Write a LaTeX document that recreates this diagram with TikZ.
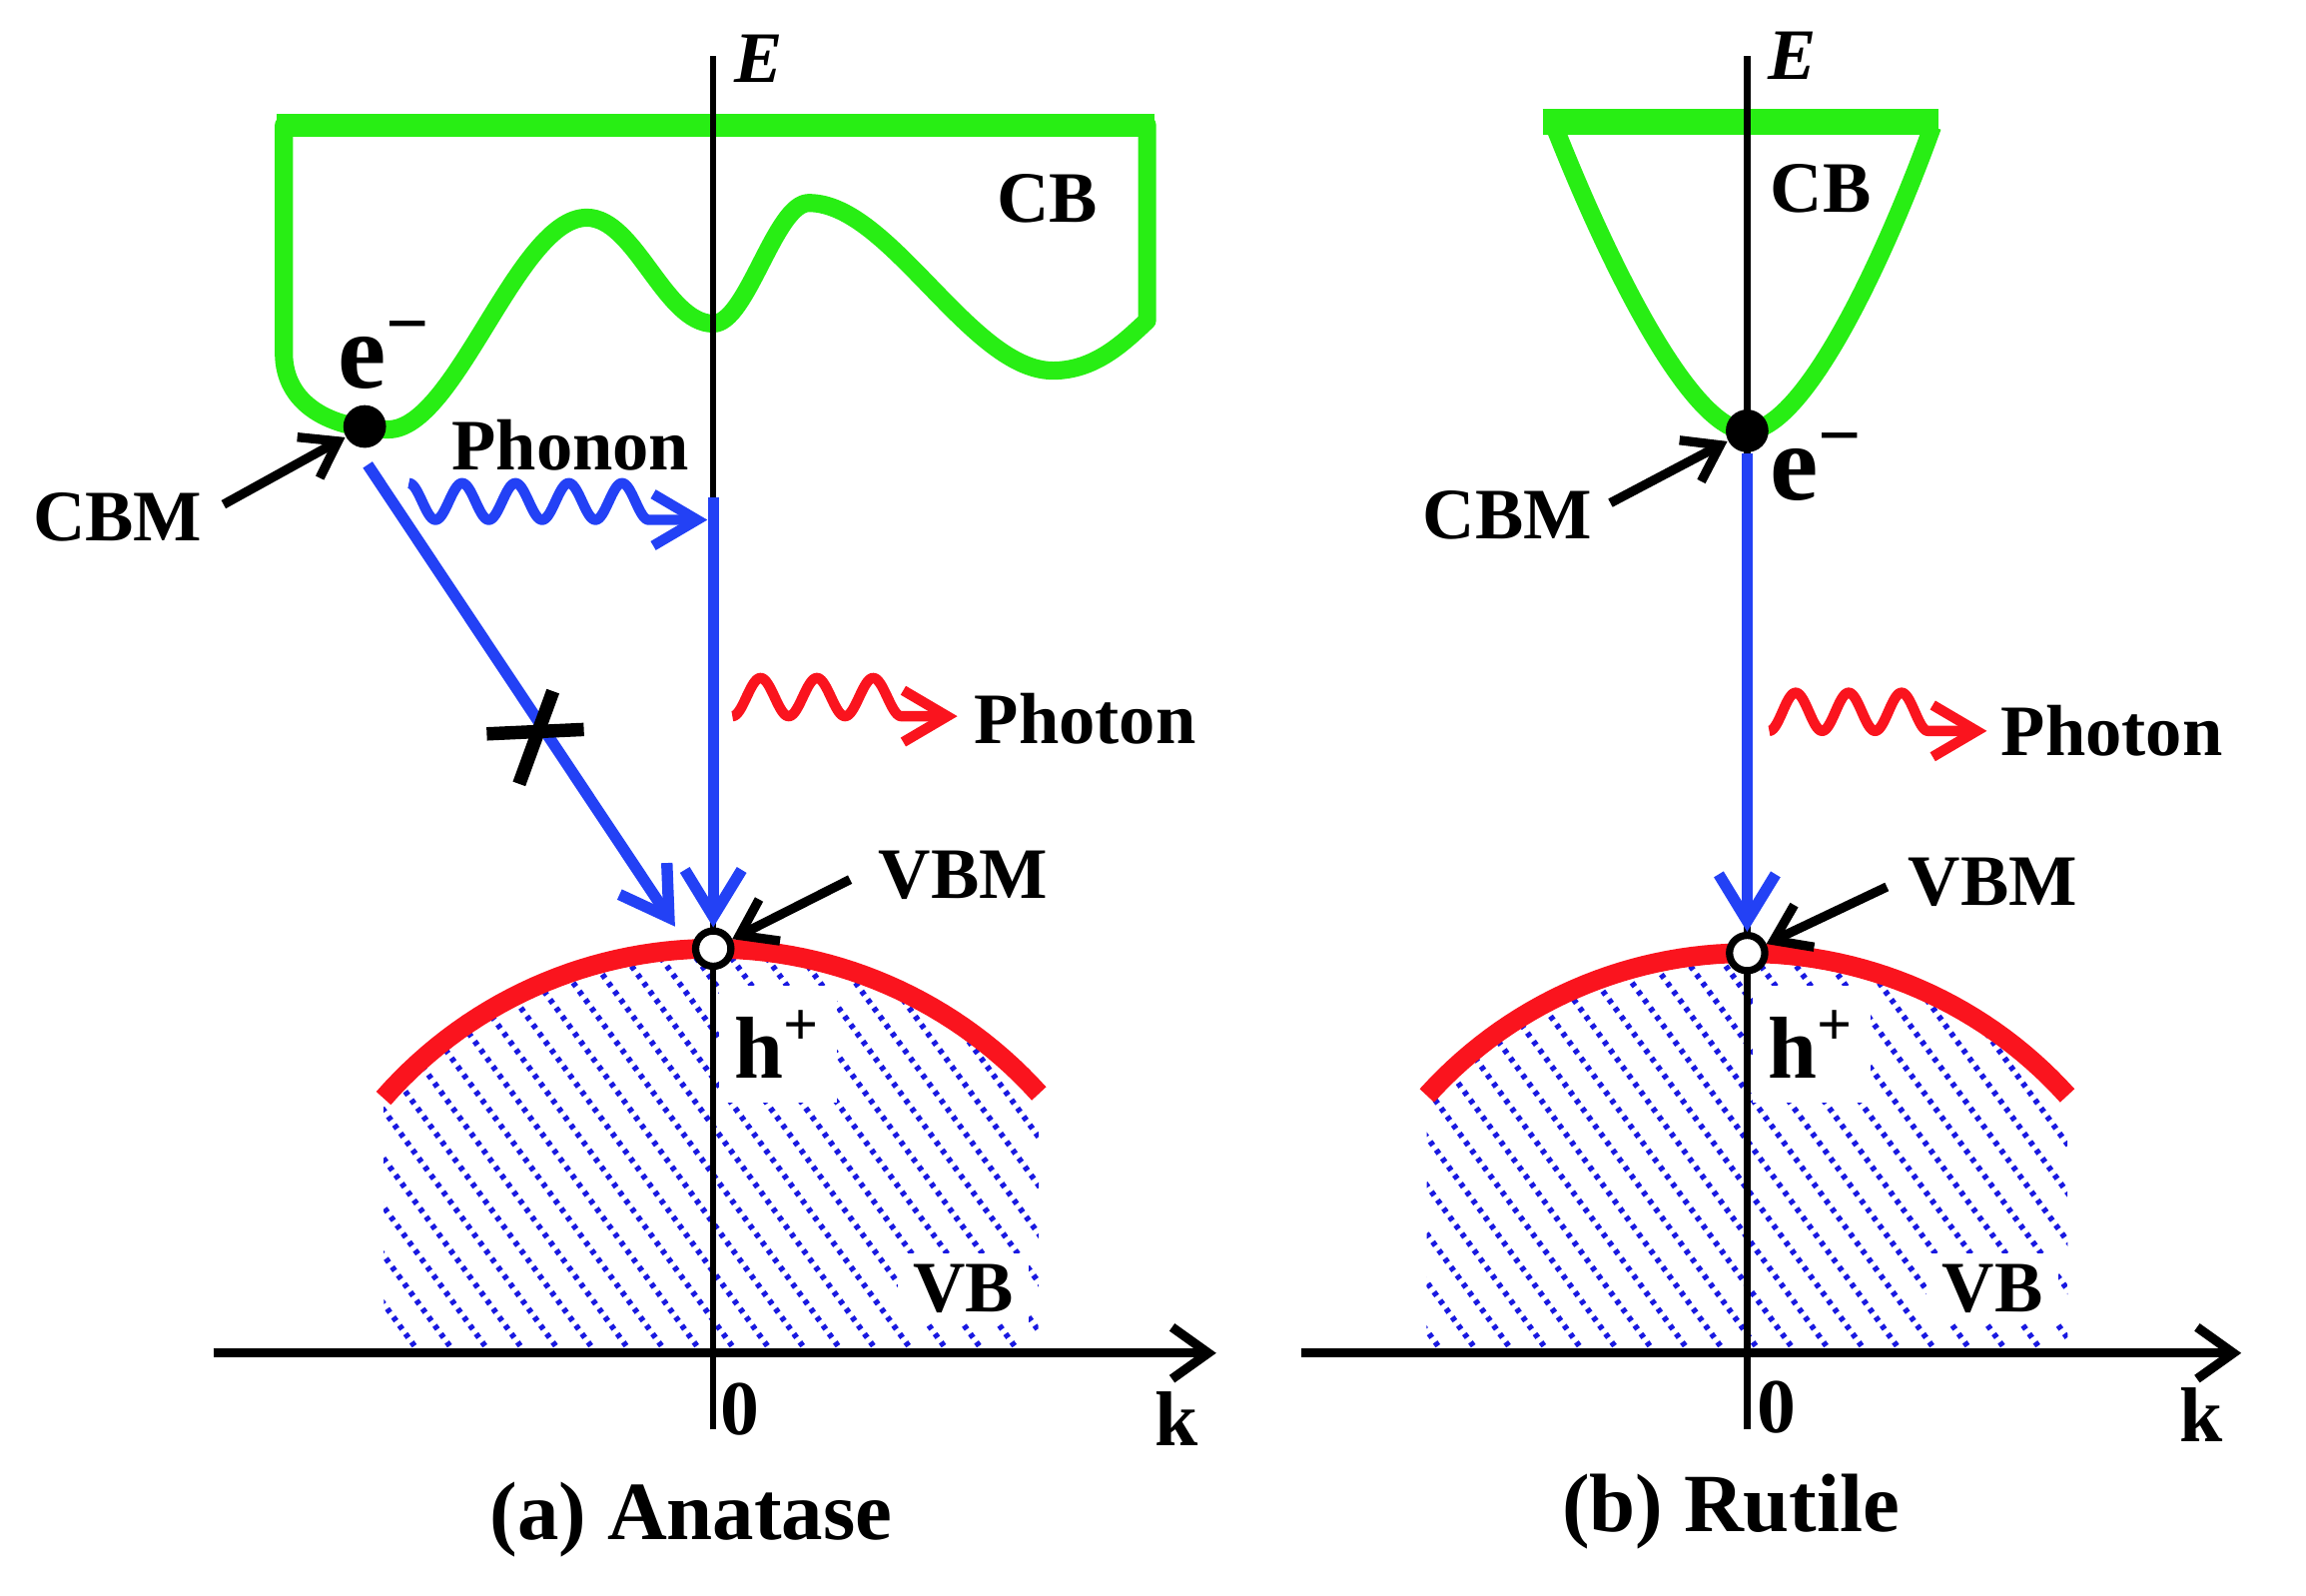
\documentclass[tikz,border=0pt]{standalone}
\usepackage{fontspec}
\setmainfont{Liberation Serif}
\usetikzlibrary{arrows.meta}
\definecolor{cbgreen}{RGB}{40,238,20}
\definecolor{arrblue}{RGB}{35,65,245}
\definecolor{hatchblue}{RGB}{25,25,225}
\definecolor{vbred}{RGB}{250,20,30}
\begin{document}
\begin{tikzpicture}[x=0.01cm,y=-0.01cm,
  lab/.style={font=\fontsize{14}{16}\selectfont\bfseries, inner sep=0pt},
  ttl/.style={font=\fontsize{16}{18}\selectfont\bfseries, inner sep=0pt},
  axlab/.style={font=\fontsize{15}{17}\selectfont\bfseries, inner sep=0pt},
  elab/.style={font=\fontsize{14}{16}\selectfont\bfseries\itshape, inner sep=0pt},
  carrier/.style={font=\fontsize{21}{23}\selectfont\bfseries, inner sep=0pt},
  holelab/.style={font=\fontsize{17}{19}\selectfont\bfseries, inner sep=0pt, fill=white, minimum width=0.8cm, minimum height=0.8cm},
  vblab/.style={font=\fontsize{14}{16}\selectfont\bfseries, inner xsep=3pt, inner ysep=2pt, fill=white},
  cbline/.style={draw=cbgreen, line width=3.5pt, line join=round},
  cbbar/.style={draw=cbgreen, line width=4.4pt},
  vbarc/.style={draw=vbred, line width=3.8pt},
  hatchline/.style={draw=hatchblue, line width=1.1pt, dash pattern=on 0.9pt off 1.1pt},
  eaxis/.style={draw=black, line width=1.2pt},
  kaxis/.style={draw=black, line width=1.8pt, -{Straight Barb[length=7pt,width=10pt]}},
  trans/.style={draw=arrblue, line width=2.2pt, -{Straight Barb[length=9pt,width=11pt]}},
  phon/.style={draw=arrblue, line width=2pt, line join=round, -{Straight Barb[length=8.5pt,width=10pt]}},
  phot/.style={draw=vbred, line width=2pt, line join=round, -{Straight Barb[length=8.5pt,width=10pt]}},
  pointer/.style={draw=black, line width=1.8pt, -{Straight Barb[length=6.5pt,width=9pt]}},
  xmark/.style={draw=black, line width=2.6pt},
  edot/.style={circle, fill=black, inner sep=0pt, minimum size=0.29cm},
  hole/.style={circle, draw=black, line width=1.4pt, fill=white, inner sep=0pt, minimum size=0.24cm}
]
\useasboundingbox (0,0) rectangle (1568,1085);

% ================= (a) Anatase =================
\begin{scope}
\clip plot[domain=138.8:42,samples=60] ({485+298*cos(\x)},{943-298*sin(\x)}) -- (706,918) -- (261,918) -- cycle;
\foreach \k in {0,...,30} {\draw[hatchline] ({-20+24*\k},600) -- ++(280,384);}
\end{scope}
\draw[vbarc] plot[domain=138.8:42,samples=60] ({485+298*cos(\x)},{943-298*sin(\x)});

\draw[cbline] (193,85) -- (780,85) -- (780,218) .. controls (765,232) and (745,252) .. (716,252)
  .. controls (660,252) and (605,138) .. (550,138) .. controls (527,138) and (508,220) .. (485,220)
  .. controls (452,220) and (432,148) .. (399,148) .. controls (352,148) and (310,292) .. (264,292)
  .. controls (225,292) and (193,275) .. (193,240) -- cycle;
\draw[cbbar] (188,85) -- (785,85);

\coordinate (EtopA) at (485,38);
\coordinate (EbotA) at (485,972);
\draw[eaxis] (EbotA) -- (EtopA);
\coordinate (kLA) at (145,920);
\coordinate (kRA) at (827,920);
\draw[kaxis] (kLA) -- (kRA);

\coordinate (vA1) at (485,338);
\coordinate (dA1) at (250,316);
\coordinate (dA2) at (459,630);
\node[hole] (vbmA) at (485,645) {};
\draw[trans] (vA1) -- (vbmA.north);
\draw[trans] (dA1) -- (dA2);
\draw[xmark] (331,499) -- (397,496);
\draw[xmark] (376,470) -- (353,533);

\coordinate (phA) at (481,353.5);
\draw[phon] plot[domain=0:4.5,samples=150] ({278+36.25*\x},{341-12.5*cos(360*\x)}) -- (phA);
\coordinate (phtA) at (651,487);
\draw[phot] plot[domain=0:3,samples=120] ({498+38.3*\x},{474+13*cos(360*\x)}) -- (phtA);

\node[edot] (cbmA) at (248,290) {};
\node[lab] (cbmlabA) at (80,352) {CBM};
\coordinate (cbmpA) at (152,343);
\draw[pointer] (cbmpA) -- (cbmA);
\node[lab] (vbmlabA) at (655,595) {VBM};
\coordinate (vbmpA) at (578,598);
\draw[pointer] (vbmpA) -- (vbmA);

\node[elab] (EA) at (516,40) {E};
\node[lab] (cbA) at (712,135) {CB};
\node[carrier, anchor=base west] (eA) at (229,264) {e\textsuperscript{−}};
\node[lab] (phonA) at (388,303) {Phonon};
\node[lab] (photA) at (738,489) {Photon};
\node[holelab] (hA) at (529,710) {h\textsuperscript{+}};
\node[vblab] (vbA) at (655,876) {VB};
\node[axlab] (zeroA) at (503,958) {0};
\node[axlab] (kA) at (800,965) {k};
\node[ttl] (titA) at (470,1033) {(a) Anatase};

% ================= (b) Rutile =================
\begin{scope}
\clip plot[domain=138:42,samples=60] ({1188+293*cos(\x)},{941-293*sin(\x)}) -- (1406,918) -- (970,918) -- cycle;
\foreach \k in {0,...,30} {\draw[hatchline] ({700+24*\k},600) -- ++(280,384);}
\end{scope}
\draw[vbarc] plot[domain=138:42,samples=60] ({1188+293*cos(\x)},{941-293*sin(\x)});

\draw[cbline] (1057,86) .. controls (1094,180) and (1150,293) .. (1188,293)
  .. controls (1226,293) and (1280,180) .. (1314,86);
\draw[cbbar, line width=5pt] (1049,83) -- (1318,83);

\coordinate (EtopB) at (1188,38);
\coordinate (EbotB) at (1188,972);
\draw[eaxis] (EbotB) -- (EtopB);
\coordinate (kLB) at (885,920);
\coordinate (kRB) at (1524,920);
\draw[kaxis] (kLB) -- (kRB);

\node[edot] (cbmB) at (1188,293) {};
\node[hole] (vbmB) at (1188,648) {};
\draw[trans] (cbmB.south) -- (vbmB.north);
\coordinate (phtB) at (1351,497);
\draw[phot] plot[domain=0:3,samples=120] ({1203+36*\x},{484+13*cos(360*\x)}) -- (phtB);

\node[lab] (cbmlabB) at (1025,350) {CBM};
\coordinate (cbmpB) at (1095,342);
\draw[pointer] (cbmpB) -- (cbmB);
\node[lab] (vbmlabB) at (1355,600) {VBM};
\coordinate (vbmpB) at (1283,603);
\draw[pointer] (vbmpB) -- (vbmB);

\node[elab] (EB) at (1219,38) {E};
\node[lab] (cbB) at (1238,128) {CB};
\node[carrier, anchor=base west] (eB) at (1203,340) {e\textsuperscript{−}};
\node[lab] (photB) at (1436,497) {Photon};
\node[holelab] (hB) at (1232,710) {h\textsuperscript{+}};
\node[vblab] (vbB) at (1355,876) {VB};
\node[axlab] (zeroB) at (1208,957) {0};
\node[axlab] (kB) at (1497,962) {k};
\node[ttl] (titB) at (1177,1028) {(b) Rutile};
\end{tikzpicture}
\end{document}
